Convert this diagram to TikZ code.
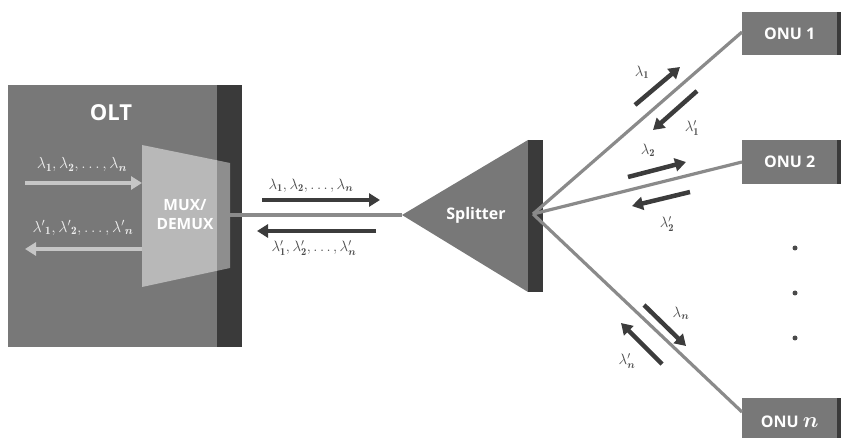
\RequirePackage{fix-cm}
\documentclass[tikz,border=0pt]{standalone}
\usepackage{fontspec}
\setsansfont{Open Sans}
\usepackage{amsmath,bm}
\usetikzlibrary{arrows.meta}
\definecolor{boxgray}{HTML}{787878}
\definecolor{darkstrip}{HTML}{3A3A3A}
\definecolor{muxgray}{HTML}{B8B8B8}
\definecolor{muxside}{HTML}{8E8E8E}
\definecolor{fiber}{HTML}{8A8A8A}
\definecolor{arrowdark}{HTML}{3C3C3C}
\definecolor{labelgray}{HTML}{4A4A4A}
\definecolor{lightarrow}{HTML}{C6C6C6}
\definecolor{lightlabel}{HTML}{EEEEEE}
\tikzset{
  boxnode/.style={fill=boxgray, draw=none, inner sep=0pt, anchor=north west},
  stripnode/.style={fill=darkstrip, draw=none, inner sep=0pt, anchor=north west},
  titletext/.style={font=\sffamily\bfseries, text=white},
  fiberline/.style={draw=fiber, line width=3.2pt},
  sigarrow/.style={draw=arrowdark, line width=4.5pt, -{Triangle[length=11pt,width=13pt]}},
  inarrow/.style={draw=lightarrow, line width=4.5pt, -{Triangle[length=11pt,width=13pt]}},
  lamlabel/.style={text=labelgray, inner sep=0pt, font=\fontsize{15}{17}\selectfont},
  inlabel/.style={text=lightlabel, inner sep=0pt, font=\fontsize{16}{18}\selectfont},
  dotnode/.style={circle, fill=labelgray, inner sep=0pt, minimum size=5pt},
}
\begin{document}
\begin{tikzpicture}[x=1pt,y=-1pt]
\useasboundingbox (0,0) rectangle (841,438);
% OLT
\node[boxnode, minimum width=209pt, minimum height=262pt] (olt) at (8,85) {};
\node[stripnode, minimum width=25pt, minimum height=262pt] (oltstrip) at (217,85) {};
\node[titletext, font=\sffamily\bfseries\fontsize{22}{24}\selectfont] (olttext) at (111,113) {OLT};
% MUX
\fill[muxgray] (142,145) -- (217,160.3) -- (217,270.8) -- (142,287) -- cycle;
\fill[muxside] (217,160.3) -- (230,163) -- (230,268) -- (217,270.8) -- cycle;
\node[titletext, align=center, font=\sffamily\bfseries\fontsize{15.5}{19}\selectfont] (mux) at (185,215) {MUX/\\DEMUX};
\coordinate (muxout) at (230,215);
\coordinate (muxinA) at (142,183);
\coordinate (muxinB) at (142,249);
\coordinate (srcA) at (25,183);
\coordinate (srcB) at (25,249);
\draw[inarrow] (srcA) -- (muxinA);
\draw[inarrow] (muxinB) -- (srcB);
\node[inlabel] (la) at (82,165) {$\lambda_{\mathbf{1}},\lambda_{\mathbf{2}},\dots,\lambda_{\bm{n}}$};
\node[inlabel] (lb) at (83,228) {${\lambda'}_{\mathbf{1}},{\lambda'}_{\mathbf{2}},\dots,{\lambda'}_{\bm{n}}$};
% Splitter
\coordinate (tip) at (402,215);
\draw[fiberline] (muxout) -- (tip);
\fill[boxgray] (tip) -- (528,140) -- (528,292) -- cycle;
\node[stripnode, minimum width=15pt, minimum height=152pt] (splstrip) at (528,140) {};
\node[titletext, font=\sffamily\bfseries\fontsize{16}{18}\selectfont] (spl) at (476,215) {Splitter};
\coordinate (hub) at (533,214);
% trunk arrows
\coordinate (ta1) at (262,200); \coordinate (ta2) at (380,200);
\coordinate (tb1) at (376,231); \coordinate (tb2) at (257,231);
\draw[sigarrow] (ta1) -- (ta2);
\draw[sigarrow] (tb1) -- (tb2);
\node[lamlabel] (tla) at (311,186) {$\lambda_{\mathbf{1}},\lambda_{\mathbf{2}},\dots,\lambda_{\bm{n}}$};
\node[lamlabel] (tlb) at (314,248) {$\lambda'_{\mathbf{1}},\lambda'_{\mathbf{2}},\dots,\lambda'_{\bm{n}}$};
% ONUs
\node[boxnode, minimum width=95pt, minimum height=43pt] (onu1) at (742,12) {};
\node[stripnode, minimum width=6pt, minimum height=43pt] (onu1s) at (837,12) {};
\node[titletext, font=\sffamily\bfseries\fontsize{16}{18}\selectfont] at (onu1.center) {ONU 1};
\node[boxnode, minimum width=95pt, minimum height=44pt] (onu2) at (742,140) {};
\node[stripnode, minimum width=6pt, minimum height=44pt] (onu2s) at (837,140) {};
\node[titletext, font=\sffamily\bfseries\fontsize{16}{18}\selectfont] at (onu2.center) {ONU 2};
\node[boxnode, minimum width=95pt, minimum height=44pt] (onun) at (742,398) {};
\node[stripnode, minimum width=6pt, minimum height=44pt] (onuns) at (837,398) {};
\node[titletext, font=\sffamily\bfseries\fontsize{16}{18}\selectfont] at ([yshift=-2pt]onun.center) {ONU {\fontsize{22}{22}\selectfont\boldmath$n$}};
\coordinate (e1) at (742,32);
\coordinate (e2) at (742,162);
\coordinate (en) at (742,412);
\draw[fiberline] (hub) -- (e1);
\draw[fiberline] (hub) -- (e2);
\draw[fiberline] (hub) -- (en);
% dots
\node[dotnode] (d1) at (795,248) {};
\node[dotnode] (d2) at (795,293) {};
\node[dotnode] (d3) at (795,338) {};
% branch arrows
\coordinate (a1s) at (635,105); \coordinate (a1e) at (680,67);
\coordinate (b1s) at (697,91);  \coordinate (b1e) at (653,130);
\coordinate (a2s) at (628,177); \coordinate (a2e) at (686,162);
\coordinate (b2s) at (690,192); \coordinate (b2e) at (632,206);
\coordinate (ans) at (644,305); \coordinate (ane) at (686,346);
\coordinate (bns) at (662,364); \coordinate (bne) at (621,323);
\draw[sigarrow] (a1s) -- (a1e);
\draw[sigarrow] (b1s) -- (b1e);
\draw[sigarrow] (a2s) -- (a2e);
\draw[sigarrow] (b2s) -- (b2e);
\draw[sigarrow] (ans) -- (ane);
\draw[sigarrow] (bns) -- (bne);
\node[lamlabel] (l1) at (642,72) {$\lambda_{\mathbf{1}}$};
\node[lamlabel] (l1p) at (692,128) {$\lambda'_{\mathbf{1}}$};
\node[lamlabel] (l2) at (648,150) {$\lambda_{\mathbf{2}}$};
\node[lamlabel] (l2p) at (667,224) {$\lambda'_{\mathbf{2}}$};
\node[lamlabel] (ln) at (681,313) {$\lambda_{\bm{n}}$};
\node[lamlabel] (lnp) at (627,361) {$\lambda'_{\bm{n}}$};
\end{tikzpicture}
\end{document}
